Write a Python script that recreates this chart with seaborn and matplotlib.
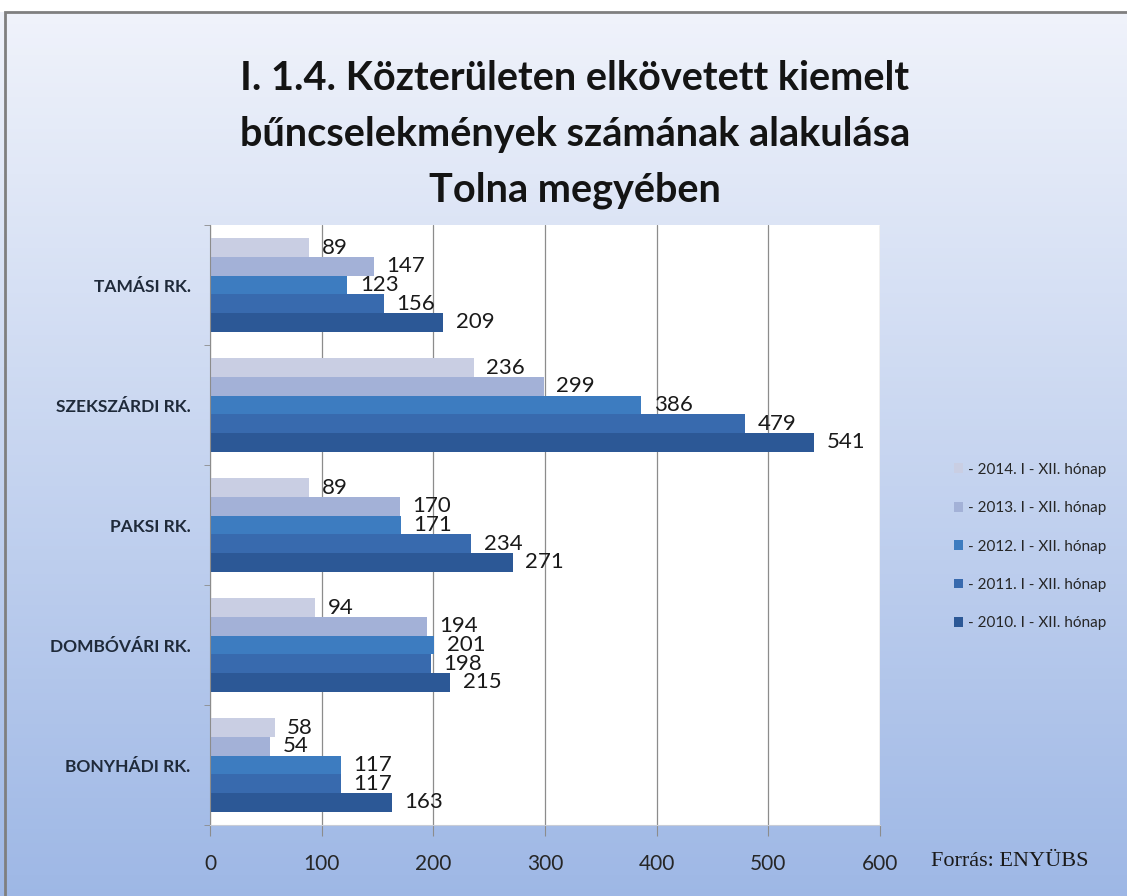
import numpy as np
import pandas as pd
import matplotlib
matplotlib.use('Agg')
import matplotlib.pyplot as plt
from matplotlib.patches import Rectangle
import seaborn as sns

# police stations (top to bottom)
stations = ['TAMÁSI RK.', 'SZEKSZÁRDI RK.', 'PAKSI RK.', 'DOMBÓVÁRI RK.', 'BONYHÁDI RK.']
years = ['- 2014. I - XII. hónap', '- 2013. I - XII. hónap', '- 2012. I - XII. hónap',
         '- 2011. I - XII. hónap', '- 2010. I - XII. hónap']

v2014 = [89, 236, 89, 94, 58]
v2013 = [147, 299, 170, 194, 54]
v2012 = [123, 386, 171, 201, 117]
v2011 = [156, 479, 234, 198, 117]
v2010 = [209, 541, 271, 215, 163]

bar_colors = ['#c9cee3', '#a3b1d7', '#3d7cc0', '#386aae', '#2c5896']

xticks = [0, 100, 200, 300, 400, 500, 600]

# long format for seaborn
rows = []
for yr, vals in zip(years, [v2014, v2013, v2012, v2011, v2010]):
    for st, v in zip(stations, vals):
        rows.append({'station': st, 'year': yr, 'count': v})
df = pd.DataFrame(rows)

sns.set_style('white')
plt.rcParams['font.family'] = ['Lato', 'DejaVu Sans']

fig = plt.figure(figsize=(11.27, 8.96), dpi=100)

# slide background with vertical gradient
bg = fig.add_axes([0, 0, 1, 1], zorder=-10)
top = np.array([0.945, 0.955, 0.985])
bottom = np.array([0.62, 0.72, 0.90])
t = np.linspace(0, 1, 256)[:, None]
grad = top * (1 - t) + bottom * t
bg.imshow(grad[:, None, :], aspect='auto', extent=[0, 1, 0, 1])
bg.set_xlim(0, 1)
bg.set_ylim(0, 1)
bg.axis('off')
# white strip above and gray frame
fig.patches.append(Rectangle((0, 1 - 12 / 896), 1, 12 / 896, transform=fig.transFigure,
                             facecolor='white', edgecolor='none', zorder=-5))
fig.patches.append(Rectangle((5 / 1127, -0.01), 1.0, 1 - 12 / 896 + 0.01, transform=fig.transFigure,
                             facecolor='none', edgecolor='#7f7f7f', linewidth=2, zorder=-4))

ax = fig.add_axes([210 / 1127, 71 / 896, 670 / 1127, 600 / 896])
ax.set_facecolor('white')

sns.barplot(data=df, y='station', x='count', hue='year', hue_order=years,
            order=stations, palette=bar_colors, orient='h', width=0.78,
            saturation=1, linewidth=0, edgecolor='none', ax=ax, legend=True)

for cont in ax.containers:
    ax.bar_label(cont, padding=9, fontsize=16, color='#1a1a1a')

ax.set_xlim(0, 600)
ax.set_xticks(xticks)
ax.set_xticklabels([str(x) for x in xticks], fontsize=15, color='#262626')
ax.tick_params(axis='x', direction='out', length=8, pad=13, color='#8c8c8c', bottom=True)
ax.tick_params(axis='y', length=0, pad=14, labelsize=12.5)
for lab in ax.get_yticklabels():
    lab.set_fontweight('bold')
    lab.set_color('#1f2a3a')
ax.set_yticks(np.arange(-0.5, len(stations), 1), minor=True)
ax.tick_params(axis='y', which='minor', direction='out', length=4, color='#8c8c8c', left=True)
ax.set_xlabel('')
ax.set_ylabel('')
ax.xaxis.grid(True, color='#8c8c8c', linewidth=0.9)
ax.set_axisbelow(True)
for side in ['top', 'right']:
    ax.spines[side].set_visible(False)
ax.spines['left'].set_color('#8c8c8c')
ax.spines['bottom'].set_color('#c8ccd6')

# legend on the right
handles, labels = ax.get_legend_handles_labels()
ax.get_legend().remove()
fig.legend(handles, labels, loc='center left', bbox_to_anchor=(0.834, 0.39),
           frameon=False, fontsize=11, labelspacing=1.6, handlelength=0.6,
           handleheight=0.6, handletextpad=0.35)

fig.text(0.51, 0.85, 'I. 1.4. Közterületen elkövetett kiemelt\nbűncselekmények számának alakulása\nTolna megyében',
         ha='center', va='center', fontsize=28.5, fontweight='bold', color='#141414',
         linespacing=1.62)

fig.text(0.826, 0.038, 'Forrás: ENYÜBS', ha='left', va='center', fontsize=16,
         family='Liberation Serif', color='#1a1a1a')

fig.savefig('out.png', dpi=100)
